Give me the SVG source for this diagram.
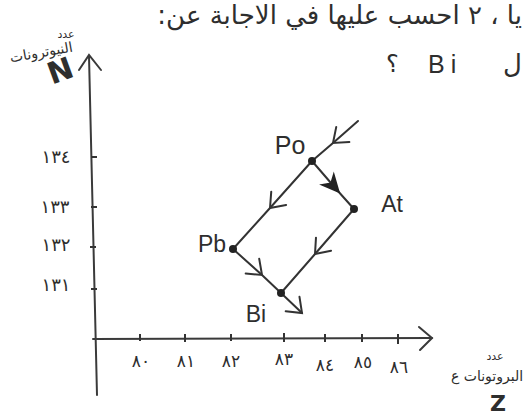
<svg xmlns="http://www.w3.org/2000/svg" width="525" height="417" viewBox="0 0 525 417">
<style>
.ax{stroke:#3a3a3a;stroke-width:2;fill:none;stroke-linecap:round}
.ln{stroke:#333;stroke-width:2;fill:none;stroke-linecap:round}
.hw{font-family:"DejaVu Sans","Noto Sans",sans-serif;fill:#2e2e2e}
.ar{font-family:"DejaVu Sans","Noto Sans",sans-serif;fill:#2e2e2e}
.lab{font-family:"Liberation Sans","DejaVu Sans",sans-serif;fill:#2e2e2e;font-size:23px}
.tick{stroke:#333;stroke-width:2}
.dot{fill:#222}
</style>
<defs>
<marker id="chev" markerUnits="userSpaceOnUse" markerWidth="40" markerHeight="40" refX="0" refY="0" viewBox="-20 -20 40 40" orient="auto">
<path d="M-13,-10 L0,0 L-13,10" stroke="#333" stroke-width="2" fill="none" stroke-linecap="round"/>
</marker>
<marker id="thick" markerUnits="userSpaceOnUse" markerWidth="40" markerHeight="40" refX="0" refY="0" viewBox="-20 -20 40 40" orient="auto">
<path d="M-14,-8 L3,0 L-14,8 L-9,0 Z" fill="#222" stroke="#222" stroke-width="1.5"/>
</marker>
</defs>

<!-- header text (cropped) -->
<text class="ar" x="522" y="24" font-size="26" direction="rtl" text-anchor="start">يا ، ٢ احسب عليها في الاجابة عن:</text>
<text class="lab" x="386" y="72" style="font-size:24px">؟</text>
<text class="lab" x="428" y="73" style="font-size:25px" letter-spacing="6">Bi</text>
<text class="ar" x="503" y="73" font-size="26">ل</text>

<!-- axes -->
<g id="axes">
<path class="ax" d="M97,395 L89,56"/>
<path class="ax" d="M79,70 L89,55 L101,70"/>
<path class="ax" d="M93,339 L432,338"/>
<path class="ax" d="M419,327 L432,338 L420,350"/>
<line class="tick" x1="91" y1="157" x2="97" y2="157"/>
<line class="tick" x1="91" y1="207" x2="97" y2="207"/>
<line class="tick" x1="90" y1="247" x2="96" y2="247"/>
<line class="tick" x1="91" y1="289" x2="97" y2="289"/>
<line class="tick" x1="140" y1="334" x2="140" y2="341"/>
<line class="tick" x1="185" y1="334" x2="185" y2="342"/>
<line class="tick" x1="231" y1="334" x2="231" y2="341"/>
<line class="tick" x1="284" y1="333" x2="284" y2="342"/>
<line class="tick" x1="325" y1="334" x2="325" y2="342"/>
<line class="tick" x1="362" y1="334" x2="362" y2="342"/>
<line class="tick" x1="398" y1="334" x2="398" y2="344"/>
</g>

<g id="y-labels" class="ar" font-size="18" text-anchor="middle">
<text x="56" y="163">١٣٤</text>
<text x="55" y="213">١٣٣</text>
<text x="56" y="251">١٣٢</text>
<text x="56" y="291">١٣١</text>
</g>
<g id="x-labels" class="ar" font-size="17" text-anchor="middle">
<text x="141" y="367">٨٠</text>
<text x="186" y="367">٨١</text>
<text x="231" y="367">٨٢</text>
<text x="284" y="365">٨٣</text>
<text x="325" y="371">٨٤</text>
<text x="363" y="368">٨٥</text>
<text x="399" y="373">٨٦</text>
</g>

<g id="axis-titles">
<text class="ar" x="66" y="38" font-size="11" text-anchor="middle">عدد</text>
<text class="ar" x="42" y="57" font-size="14" text-anchor="middle" transform="rotate(-10 42 57)">النيوترونات</text>
<text class="hw" x="60" y="81" font-size="30" font-weight="bold" text-anchor="middle" transform="rotate(-20 60 70)">N</text>
<text class="ar" x="495" y="360" font-size="11" text-anchor="middle">عدد</text>
<text class="ar" x="487" y="381" font-size="14" text-anchor="middle">البروتونات ع</text>
<text class="hw" x="498" y="411" font-size="22" font-weight="bold" text-anchor="middle">Z</text>
</g>

<g id="connectors">
<path class="ln" d="M358,121 L333,143 L312,161" marker-mid="url(#chev)"/>
<path class="ln" d="M312,161 L337,190 L354,209" marker-mid="url(#thick)" stroke-width="2.5"/>
<path class="ln" d="M312,161 L270,208 L233,249" marker-mid="url(#chev)"/>
<path class="ln" d="M354,209 L315,254 L281,293" marker-mid="url(#chev)"/>
<path class="ln" d="M233,249 L262,275 L281,293" marker-mid="url(#chev)"/>
<path class="ln" d="M281,293 L302,313" marker-end="url(#chev)"/>
</g>

<g id="Po"><circle class="dot" cx="312" cy="161" r="4"/><text class="lab" x="290" y="154" text-anchor="middle" style="font-size:25px">Po</text></g>
<g id="At"><circle class="dot" cx="354" cy="209" r="4"/><text class="lab" x="392" y="212" text-anchor="middle">At</text></g>
<g id="Pb"><circle class="dot" cx="233" cy="249" r="4"/><text class="lab" x="212" y="252" text-anchor="middle">Pb</text></g>
<g id="Bi"><circle class="dot" cx="281" cy="293" r="4"/><text class="lab" x="256" y="322" text-anchor="middle">Bi</text></g>
</svg>
